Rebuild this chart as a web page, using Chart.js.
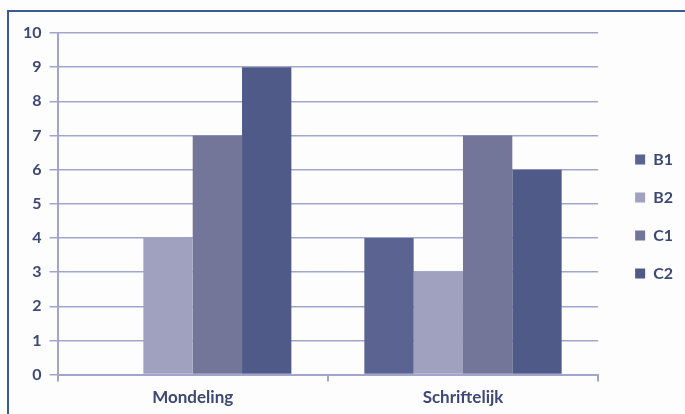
<!DOCTYPE html>
<html>
<head>
<meta charset="utf-8">
<script src="https://cdn.jsdelivr.net/npm/chart.js@4"></script>
<style>
html,body{margin:0;padding:0;background:#fdfdfd;}
#wrap{position:relative;width:685px;height:414px;overflow:hidden;}
#frame{position:absolute;left:7px;top:10px;width:700px;height:420px;border-left:2px solid #3a5a92;border-top:2px solid #3a5a92;box-sizing:border-box;pointer-events:none;}
canvas{position:absolute;left:0;top:0;}
</style>
</head>
<body>
<div id="wrap">
<canvas id="c" width="685" height="414"></canvas>
<div id="frame"></div>
</div>
<script>
const categories = ["Mondeling", "Schriftelijk"];
const seriesNames = ["B1", "B2", "C1", "C2"];
const B1 = [0, 4];
const B2 = [4, 3];
const C1 = [7, 7];
const C2 = [9, 6];
const seriesColors = ["#5b6390", "#9fa1bf", "#737599", "#4f5a89"];
const textColor = "#3d4877";
const gridColor = "#a2a5cb";

const values = [B1, B2, C1, C2];

const shiftLegend = {
  id: "shiftLegend",
  afterLayout(chart) {
    const lg = chart.legend;
    if (lg) { lg.left += 15; lg.right += 15; lg.top -= 7; lg.bottom -= 7; }
  }
};

new Chart(document.getElementById("c"), {
  type: "bar",
  data: {
    labels: categories,
    datasets: seriesNames.map((n, i) => ({
      label: n,
      data: values[i],
      backgroundColor: seriesColors[i],
      borderWidth: 0,
      categoryPercentage: 0.73,
      barPercentage: 1.0
    }))
  },
  options: {
    responsive: false,
    animation: false,
    layout: { padding: { left: 15, top: 33, right: 17, bottom: 0 } },
    plugins: {
      tooltip: { enabled: false },
      legend: {
        position: "right",
        labels: {
          boxWidth: 10, boxHeight: 10, padding: 22,
          color: textColor,
          font: { family: "Lato", size: 16, weight: "bold" }
        }
      }
    },
    scales: {
      x: {
        grid: { drawOnChartArea: false, drawTicks: true, tickLength: 7, color: gridColor, lineWidth: 2, offset: true },
        border: { color: gridColor, width: 2 },
        ticks: { color: textColor, font: { family: "Lato", size: 17, weight: "bold" }, padding: 6 }
      },
      y: {
        min: 0, max: 10,
        grid: { color: gridColor, lineWidth: 1.5, tickLength: 8 },
        border: { color: gridColor, width: 2 },
        ticks: { stepSize: 1, color: textColor, font: { family: "Lato", size: 16, weight: "bold" }, padding: 8 }
      }
    }
  },
  plugins: [shiftLegend]
});
</script>
</body>
</html>
